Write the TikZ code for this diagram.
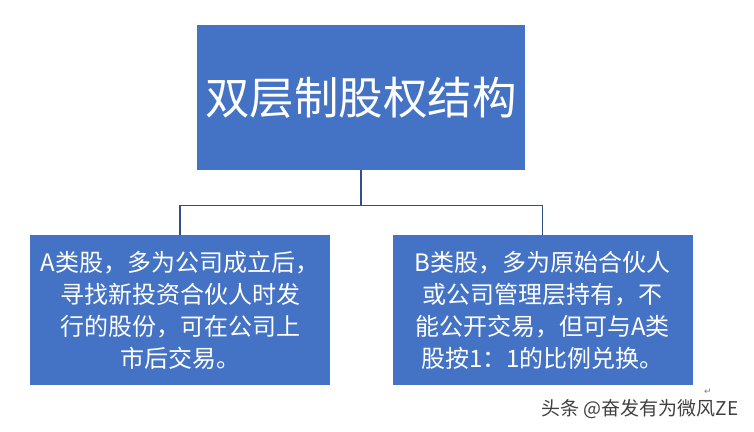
\documentclass[tikz,border=0pt]{standalone}
\usepackage{fontspec}
\setmainfont{Noto Sans CJK SC}
\newfontfamily\symfont{DejaVu Sans}
\usetikzlibrary{positioning, calc}
\definecolor{boxblue}{HTML}{4472C4}
\definecolor{linenavy}{HTML}{2F4F8F}

\begin{document}
\begin{tikzpicture}[x=1pt, y=1pt,
        topbox/.style={rectangle, fill=boxblue, text=white, minimum width=328pt, minimum height=145pt, align=center, font=\fontsize{44.5}{52}\selectfont},
        share/.style={rectangle, fill=boxblue, text=white, minimum width=300pt, minimum height=150pt, align=center, inner sep=0pt, font=\fontsize{24}{32}\selectfont},
        link/.style={draw=linenavy, line width=1.2pt}
    ]
        \useasboundingbox (0,0) rectangle (754,431);
        \node[topbox] (root) at (361,333.5) {双层制股权结构};
        \node[share] (aclass) at (180,121) {A类股，多为公司成立后，\\寻找新投资合伙人时发\\行的股份，可在公司上\\市后交易。};
        \node[share] (bclass) at (542.5,121) {B类股，多为原始合伙人\\或公司管理层持有，不\\能公开交易，但可与A类\\股按1：1的比例兑换。};

        \coordinate (mid) at ($(root.south)+(0,-35)$);
        \draw[link] (root.south) -- (mid);
        \draw[link] (aclass.north) |- (mid) -| (bclass.north);

        \node[font=\symfont\fontsize{9}{9}\selectfont, text=gray] (ret) at (708,39) {↵};
        \node[font=\fontsize{19}{19}\selectfont, text=black!75, anchor=east] (mark) at (742,22) {头条 @奋发有为微风ZE};
    \end{tikzpicture}
\end{document}
